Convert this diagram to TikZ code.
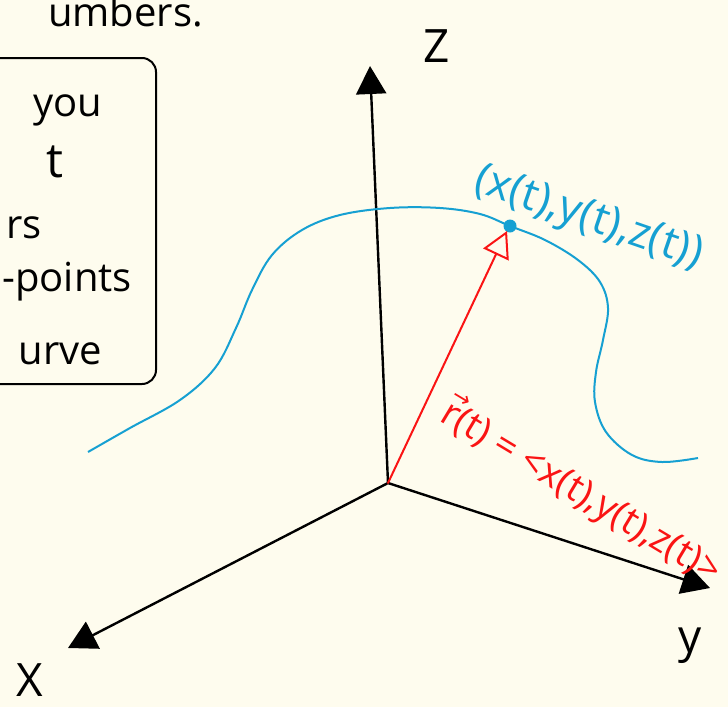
\documentclass[tikz,border=0pt]{standalone}
\usepackage{fontspec}
\setmainfont{Open Sans}
\newfontfamily\symbolfont{DejaVu Sans}
\usetikzlibrary{arrows.meta}
\definecolor{paper}{RGB}{254,252,238}
\definecolor{curveblue}{RGB}{22,160,210}
\definecolor{vecred}{RGB}{250,20,20}
\newcommand{\vecr}{\makebox[0pt][l]{\raisebox{0.62em}{\symbolfont\fontsize{22}{22}\selectfont →}}r}

\begin{document}
\begin{tikzpicture}[
  x=1pt, y=-1pt,
  axis/.style={line width=2.4pt, line cap=round,
    -{Triangle[length=28pt, width=30pt]}},
  hand/.style={font=\fontsize{40}{44}\selectfont, inner sep=0pt},
  axislabel/.style={font=\fontsize{46}{50}\selectfont, inner sep=0pt},
]
\useasboundingbox[fill=paper] (0,0) rectangle (728,707);

% Notes box (cut off at the left)
\draw[line width=2pt, rounded corners=14pt] (-30,58) rectangle (156,384);
\node[hand, anchor=base east] (numbers) at (203,26) {umbers.};
\node[hand, anchor=base west] (you) at (33,116) {you};
\node[hand, anchor=base, font=\fontsize{48}{50}\selectfont] (t) at (55,177) {t};
\node[hand, anchor=base east] (rs) at (42,238) {rs};
\node[hand, anchor=base east] (points) at (132,291) {-points};
\node[hand, anchor=base east] (urve) at (102,364) {urve};

% Axes
\coordinate (O) at (388,483);
\coordinate (zend) at (370,66);
\coordinate (xend) at (68,648);
\coordinate (yend) at (710,588);
\draw[axis] (O) -- (zend);
\draw[axis] (O) -- (xend);
\draw[axis] (O) -- (yend);
\node[axislabel, anchor=base] (zlab) at (437,62) {Z};
\node[axislabel, anchor=base] (xlab) at (30,696) {X};
\node[axislabel, anchor=base] (ylab) at (690,652) {y};

% Space curve and its point
\coordinate (P) at (510,226);
\draw[curveblue, line width=2pt] plot[smooth, tension=0.6] coordinates {
  (88,452) (130,428) (180,400) (215,368) (236,328) (252,290) (272,255)
  (302,230) (340,215) (390,208) (440,208) (480,214) (510,226) (545,240)
  (578,260) (600,282) (608,308) (603,340) (596,372) (595,402) (606,432)
  (632,455) (662,462) (698,458)};
\fill[curveblue] (P) circle (6.5pt);
\node[hand, text=curveblue, rotate=-19, anchor=base west,
  font=\fontsize{44}{46}\selectfont] (ptlabel)
  at (472,190) {(x(t),y(t),z(t))};

% Position vector
\coordinate (Ptip) at (507,231);
\draw[vecred, line width=2pt, line cap=round,
  -{Triangle[open, length=26pt, width=28pt]}] (O) -- (Ptip);
\node[hand, text=vecred, rotate=-31, anchor=base west,
  font=\fontsize{38}{42}\selectfont] (rlabel) at (438,420)
  {\vecr(t) = <x(t),y(t),z(t)>};
\end{tikzpicture}
\end{document}
